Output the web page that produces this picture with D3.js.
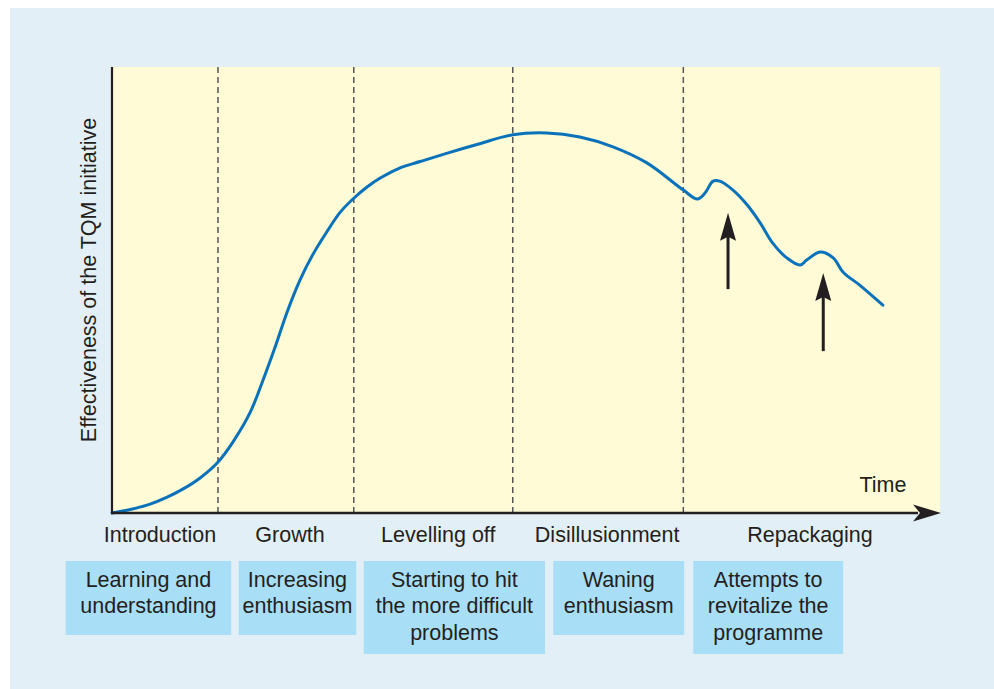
<!DOCTYPE html>
<html>
<head>
<meta charset="utf-8">
<script src="https://cdn.jsdelivr.net/npm/d3@7"></script>
<style>
  html, body { margin: 0; padding: 0; background: #ffffff; }
  svg { display: block; }
  text { font-family: "Liberation Sans", Arial, Helvetica, sans-serif; fill: #231f20; }
</style>
</head>
<body>
<svg id="chart" width="994" height="689"></svg>
<script>
// ---- Data (schematic units: time 0–100, effectiveness 0–100) ----
const time = [0, 2.2, 4.6, 6.6, 8.6, 10.6, 12.7, 14.6, 16.7, 18.1, 19.7, 21.1, 22.7, 24.3, 26.0, 27.5, 29.1, 30.8, 32.4, 34.8, 37.2, 40.5, 44.4, 48.4, 52.5, 56.5, 60.5, 64.6, 69.0, 70.7, 71.6, 72.6, 73.4, 75.0, 76.7, 78.3, 79.8, 81.5, 83.1, 83.9, 85.5, 87.1, 88.3, 90.3, 93.1];
const effectiveness = [0, 0.8, 2.0, 3.5, 5.4, 7.8, 11.2, 15.9, 22.6, 29.1, 37.2, 44.8, 52.2, 58.1, 63.2, 67.3, 70.4, 73.1, 75.1, 77.4, 78.8, 80.7, 82.8, 84.8, 85.2, 84.3, 82.1, 78.5, 72.4, 70.4, 71.7, 74.4, 74.4, 72.4, 69.1, 65.0, 60.5, 57.2, 55.6, 56.7, 58.5, 57.2, 54.0, 51.1, 46.6];

const phaseNames = ["Introduction", "Growth", "Levelling off", "Disillusionment", "Repackaging"];
const phaseBoundaries = [12.8, 29.2, 48.4, 69.0];           // dashed dividers
const phaseLabelTime = [5.8, 21.5, 39.4, 59.8, 84.3];       // where each label sits
const phaseDescriptions = [
  ["Learning and", "understanding"],
  ["Increasing", "enthusiasm"],
  ["Starting to hit", "the more difficult", "problems"],
  ["Waning", "enthusiasm"],
  ["Attempts to", "revitalize the", "programme"]
];
const descStart = [-5.6, 15.3, 30.4, 53.3, 70.2];
const descEnd   = [14.4, 29.5, 52.3, 69.1, 88.3];

// revitalization arrows: time, from effectiveness, to effectiveness
const revitalTime = [74.4, 85.9];
const revitalFrom = [50.2, 36.3];
const revitalTo   = [67.3, 53.8];

const yTitle = "Effectiveness of the TQM initiative";
const xTitle = "Time";

// ---- Layout ----
const svg = d3.select("#chart");
const W = 994, H = 689;
const plot = { left: 112, right: 940, top: 67, bottom: 513 };
const FS = 21.5;

const x = d3.scaleLinear().domain([0, 100]).range([plot.left, plot.right]);
const y = d3.scaleLinear().domain([0, 100]).range([plot.bottom, plot.top]);

const ink = "#231f20";

// panel
svg.append("rect").attr("x", 10).attr("y", 8).attr("width", W - 10).attr("height", H - 8)
  .attr("fill", "#e3eff6");

// plot background
svg.append("rect").attr("x", plot.left).attr("y", plot.top)
  .attr("width", plot.right - plot.left).attr("height", plot.bottom - plot.top)
  .attr("fill", "#fffbd6");

// dashed phase dividers
svg.append("g").selectAll("line").data(phaseBoundaries).join("line")
  .attr("x1", d => x(d)).attr("x2", d => x(d))
  .attr("y1", plot.top).attr("y2", plot.bottom)
  .attr("stroke", "#555").attr("stroke-width", 1.5).attr("stroke-dasharray", "6,4");

// curve
const pts = time.map((t, i) => [t, effectiveness[i]]);
const line = d3.line().x(d => x(d[0])).y(d => y(d[1])).curve(d3.curveCatmullRom.alpha(0.5));
svg.append("path").datum(pts).attr("d", line)
  .attr("fill", "none").attr("stroke", "#0a72ba").attr("stroke-width", 3)
  .attr("stroke-linecap", "round");

// y axis line
svg.append("line").attr("x1", plot.left).attr("x2", plot.left)
  .attr("y1", plot.top).attr("y2", plot.bottom)
  .attr("stroke", ink).attr("stroke-width", 2.2);

// x axis line with arrow
svg.append("line").attr("x1", plot.left - 1).attr("x2", plot.right - 22)
  .attr("y1", plot.bottom).attr("y2", plot.bottom)
  .attr("stroke", ink).attr("stroke-width", 2.5);
const tipX = plot.right + 1, ay = plot.bottom;
svg.append("path")
  .attr("d", `M${tipX},${ay} L${tipX - 28},${ay - 8.5} L${tipX - 21},${ay} L${tipX - 28},${ay + 8.5} Z`)
  .attr("fill", ink);

// axis titles
svg.append("text").attr("x", 883).attr("y", 492).attr("text-anchor", "middle")
  .attr("font-size", FS).text(xTitle);
svg.append("text").attr("transform", `translate(96,${(plot.top + plot.bottom) / 2 - 10}) rotate(-90)`)
  .attr("text-anchor", "middle").attr("font-size", FS).text(yTitle);

// phase labels
svg.append("g").selectAll("text").data(phaseNames).join("text")
  .attr("x", (d, i) => x(phaseLabelTime[i])).attr("y", 542)
  .attr("text-anchor", "middle").attr("font-size", FS).text(d => d);

// description boxes
const boxTop = 561, lineH = 26.3;
const boxG = svg.append("g").selectAll("g").data(phaseDescriptions).join("g");
boxG.append("rect")
  .attr("x", (d, i) => x(descStart[i])).attr("y", boxTop)
  .attr("width", (d, i) => x(descEnd[i]) - x(descStart[i]))
  .attr("height", d => d.length === 3 ? 93 : 74)
  .attr("fill", "#a9def7");
boxG.each(function (d, i) {
  const cx = (x(descStart[i]) + x(descEnd[i])) / 2;
  d3.select(this).selectAll("text").data(d).join("text")
    .attr("x", cx).attr("y", (s, j) => 587 + j * lineH)
    .attr("text-anchor", "middle").attr("font-size", FS).text(s => s);
});

// revitalization arrows
revitalTime.forEach((t, i) => {
  const ax = x(t), y0 = y(revitalFrom[i]), y1 = y(revitalTo[i]);
  svg.append("line").attr("x1", ax).attr("x2", ax).attr("y1", y0).attr("y2", y1 + 20)
    .attr("stroke", ink).attr("stroke-width", 3);
  svg.append("path")
    .attr("d", `M${ax},${y1} L${ax + 8},${y1 + 28} L${ax},${y1 + 24} L${ax - 8},${y1 + 28} Z`)
    .attr("fill", ink);
});
</script>
</body>
</html>
